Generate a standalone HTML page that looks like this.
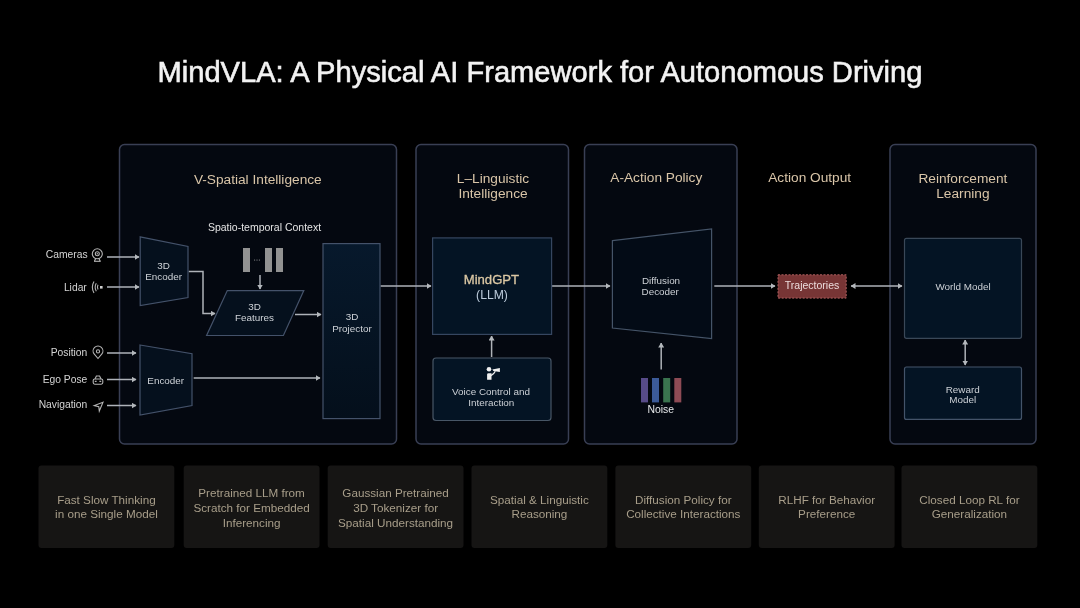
<!DOCTYPE html>
<html><head><meta charset="utf-8">
<style>
html,body{margin:0;padding:0;background:#000;width:1080px;height:608px;overflow:hidden}
svg{display:block;will-change:transform}
text{font-family:"Liberation Sans",sans-serif}
</style></head>
<body>
<svg width="1080" height="608" viewBox="0 0 1080 608">
<defs>
<marker id="ah" viewBox="0 0 5 6" refX="4.5" refY="3" markerWidth="5" markerHeight="6" markerUnits="userSpaceOnUse" orient="auto-start-reverse">
<path d="M0 0 L5 3 L0 6 z" fill="#b4b8bc"/>
</marker>
<linearGradient id="pg" x1="0" y1="0" x2="0" y2="1"><stop offset="0" stop-color="#07192c"/><stop offset="1" stop-color="#040f1b"/></linearGradient>
</defs>
<rect width="1080" height="608" fill="#000"/>
<!-- title -->
<text x="540" y="82" text-anchor="middle" font-size="29.1" fill="#f2f2f2" stroke="#f2f2f2" stroke-width="0.6">MindVLA: A Physical AI Framework for Autonomous Driving</text>

<!-- panels -->
<g fill="#040810" stroke="#393f54" stroke-width="1.5">
<rect x="119.5" y="144.5" width="277" height="299.5" rx="5"/>
<rect x="416" y="144.5" width="152.5" height="299.5" rx="5"/>
<rect x="584.5" y="144.5" width="152.5" height="299.5" rx="5"/>
<rect x="890" y="144.5" width="146" height="299.5" rx="5"/>
</g>

<!-- section titles -->
<g font-size="13.7" fill="#d9c5a8" text-anchor="middle">
<text x="257.8" y="183.7">V-Spatial Intelligence</text>
<text x="493" y="183">L–Linguistic</text>
<text x="493" y="197.8">Intelligence</text>
<text x="656.3" y="182">A-Action Policy</text>
<text x="809.7" y="182.2">Action Output</text>
<text x="962.9" y="183">Reinforcement</text>
<text x="962.9" y="198">Learning</text>
</g>

<!-- side labels -->
<g font-size="10.3" fill="#d4d4d4" text-anchor="end">
<text x="87.6" y="258">Cameras</text>
<text x="86.8" y="290.6">Lidar</text>
<text x="87.3" y="356">Position</text>
<text x="87.3" y="383.2">Ego Pose</text>
<text x="87.3" y="407.7">Navigation</text>
</g>


<!-- icons -->
<g fill="none" stroke="#b4b4b4" stroke-width="1.1">
<circle cx="97.3" cy="253.8" r="5"/>
<circle cx="97.3" cy="253.8" r="2"/>
<path d="M94 261.3 H100.7"/>
<path d="M95.5 258.8 L94.5 261.3 M99.1 258.8 L100.1 261.3"/>
<path d="M94 281.5 Q90.6 287.2 94 293"/>
<path d="M96.3 283.2 Q94 287.2 96.3 291.2"/>
<path d="M98 284.8 Q96.8 287.2 98 289.6"/>
<path d="M98 358.5 L94.3 354.2 A4.9 4.9 0 1 1 101.7 354.2 Z"/>
<circle cx="98" cy="351.4" r="1.6"/>
<path d="M95 379 L96.4 376 H99.6 L101 379"/>
<rect x="93.2" y="379" width="9.6" height="5.2" rx="1.6"/>
<path d="M94.8 381.4 H96.6 M99.4 381.4 H101.2"/>
<path d="M103 402.3 L94.3 405.6 L98.8 406.6 L99.3 411 Z"/>
</g>
<rect x="100" y="286" width="2.6" height="2.6" fill="#d0d0d0"/>
<circle cx="97.3" cy="253.8" r="0.7" fill="#b4b4b4"/>
<!-- arrows -->
<g stroke="#aeb2b8" stroke-width="1.5" fill="none" marker-end="url(#ah)">
<path d="M107 257 H139"/>
<path d="M107 287 H139"/>
<path d="M107 353 H136"/>
<path d="M107 379.5 H136"/>
<path d="M107 405.5 H136"/>
<path d="M188.7 271.5 H203 V313.5 H215"/>
<path d="M260 275 V289"/>
<path d="M295 314.5 H321"/>
<path d="M193.7 378 H320"/>
<path d="M380.5 286 H431"/>
<path d="M491.6 357 V336"/>
<path d="M552 286 H610"/>
<path d="M661.2 369.5 V343"/>
<path d="M714.3 286 H775"/>
<path d="M851 286 H902" marker-start="url(#ah)"/>
<path d="M965.2 340 V365" marker-start="url(#ah)"/>
</g>

<!-- V shapes -->
<g fill="#05101d" stroke="#44526a" stroke-width="1.2">
<path d="M140.2 236.8 L188 246.4 L188 297.5 L140.2 305.6 Z"/>
<path d="M227.3 290.6 L303.8 290.6 L283.4 335.5 L206.6 335.5 Z"/>
<rect x="323" y="243.6" width="57" height="175" fill="url(#pg)"/>
<path d="M140 345 L192 353.7 L192 405.5 L140 415 Z"/>
</g>
<g fill="#929292">
<rect x="243" y="248" width="7" height="24"/>
<rect x="265" y="248" width="7" height="24"/>
<rect x="276" y="248" width="7" height="24"/>
</g>
<g fill="#9a9a9a"><circle cx="254.6" cy="260" r="0.6"/><circle cx="257" cy="260" r="0.6"/><circle cx="259.4" cy="260" r="0.6"/></g>
<g font-size="9.9" fill="#cfd3d8" text-anchor="middle">
<text x="163.6" y="269">3D</text><text x="163.6" y="280">Encoder</text>
<text x="254.5" y="310">3D</text><text x="254.5" y="321">Features</text>
<text x="352" y="320">3D</text><text x="352" y="331.7">Projector</text>
<text x="165.7" y="383.7">Encoder</text>
</g>
<text x="264.5" y="231.4" font-size="10.5" fill="#e4e4e4" text-anchor="middle">Spatio-temporal Context</text>

<!-- L shapes -->
<g fill="#041424" stroke="#3a4858" stroke-width="1.2">
<rect x="432.6" y="237.9" width="119" height="96.5" stroke="#364660"/>
<rect x="433" y="358" width="118" height="62.5" rx="3" stroke="#485666"/>
</g>
<text x="491.4" y="284" font-size="13.1" fill="#dcc8a4" stroke="#dcc8a4" stroke-width="0.3" text-anchor="middle">MindGPT</text>
<text x="492" y="299" font-size="12.2" fill="#bccbdb" text-anchor="middle">(LLM)</text>
<g font-size="9.9" fill="#cdd1d6" text-anchor="middle">
<text x="491" y="394.6">Voice Control and</text>
<text x="491.3" y="405.7">Interaction</text>
</g>
<g fill="#f0f0f0">
<circle cx="489" cy="369.3" r="2.3"/>
<path d="M487.1 379.8 V374.6 Q487.1 373.2 488.5 373.2 H491.5 V379.8 Z"/>
<path d="M492.3 369.6 L499.9 367.9 L499.9 372.1 L493.4 371.1 Z"/>
<path d="M491 375.6 Q493.8 374.2 495.3 371.2" fill="none" stroke="#f0f0f0" stroke-width="1.3"/>
</g>

<!-- A shapes -->
<path d="M612.4 240.7 L711.6 229 L711.6 338.6 L612.4 328 Z" fill="#030b16" stroke="#455468" stroke-width="1.2"/>
<g font-size="9.9" fill="#cdd1d6" text-anchor="middle">
<text x="661" y="284.1">Diffusion</text>
<text x="660.2" y="295.2">Decoder</text>
<text x="660.7" y="413.3" font-size="10.4" fill="#e6e8ea">Noise</text>
</g>
<rect x="641" y="378" width="7" height="24.4" fill="#574b88"/>
<rect x="652" y="378" width="7" height="24.4" fill="#3b5a98"/>
<rect x="663.2" y="378" width="7" height="24.4" fill="#3a744f"/>
<rect x="674.3" y="378" width="7" height="24.4" fill="#8e4b55"/>

<!-- trajectories -->
<rect x="778" y="274.8" width="68.2" height="23.3" fill="#773535" stroke="#b06060" stroke-width="1" stroke-dasharray="2 1.5"/>
<text x="812" y="288.9" font-size="10.5" fill="#ecdcdc" text-anchor="middle">Trajectories</text>

<!-- RL shapes -->
<g fill="#041424" stroke="#3a4858" stroke-width="1.2">
<rect x="904.5" y="238.3" width="117" height="100" rx="2"/>
<rect x="904.5" y="367" width="117" height="52.4" rx="2" stroke="#44546a"/>
</g>
<g font-size="9.9" fill="#cdd1d6" text-anchor="middle">
<text x="963" y="290">World Model</text>
<text x="962.7" y="392.6">Reward</text>
<text x="962.7" y="403.3">Model</text>
</g>

<!-- bottom cards -->
<g fill="#161514">
<rect x="38.5" y="465.5" width="135.8" height="82.6" rx="3"/>
<rect x="183.7" y="465.5" width="135.8" height="82.6" rx="3"/>
<rect x="327.7" y="465.5" width="135.8" height="82.6" rx="3"/>
<rect x="471.5" y="465.5" width="135.8" height="82.6" rx="3"/>
<rect x="615.4" y="465.5" width="135.8" height="82.6" rx="3"/>
<rect x="758.8" y="465.5" width="135.8" height="82.6" rx="3"/>
<rect x="901.5" y="465.5" width="135.8" height="82.6" rx="3"/>
</g>
<g font-size="11.7" fill="#a89e8a" text-anchor="middle">
<text x="106.4" y="503.9">Fast Slow Thinking</text>
<text x="106.4" y="517.9">in one Single Model</text>
<text x="251.6" y="497">Pretrained LLM from</text>
<text x="251.6" y="511.8">Scratch for Embedded</text>
<text x="251.6" y="526.6">Inferencing</text>
<text x="395.6" y="497">Gaussian Pretrained</text>
<text x="395.6" y="511.8">3D Tokenizer for</text>
<text x="395.6" y="526.6">Spatial Understanding</text>
<text x="539.4" y="503.9">Spatial &amp; Linguistic</text>
<text x="539.4" y="517.9">Reasoning</text>
<text x="683.3" y="503.9">Diffusion Policy for</text>
<text x="683.3" y="517.9">Collective Interactions</text>
<text x="826.7" y="503.9">RLHF for Behavior</text>
<text x="826.7" y="517.9">Preference</text>
<text x="969.4" y="503.9">Closed Loop RL for</text>
<text x="969.4" y="517.9">Generalization</text>
</g>
</svg>
</body></html>
